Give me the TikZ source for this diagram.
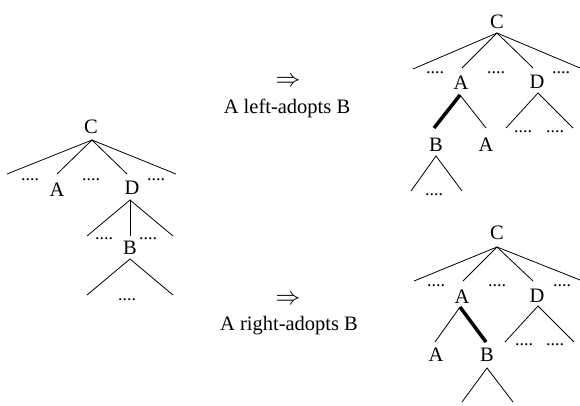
\documentclass[tikz,border=0pt]{standalone}
\usepackage{fontspec}
\setmainfont{Liberation Serif}
\begin{document}
\begin{tikzpicture}[x=1pt,y=-1pt,
  lbl/.style={inner sep=0pt,font=\fontsize{20.5}{22}\selectfont},
  arrw/.style={inner sep=0pt,font=\fontsize{25}{26}\selectfont},
  dts/.style={inner sep=0pt,font=\fontsize{18}{18}\selectfont},
  edge/.style={line width=0.8pt},
  boldedge/.style={line width=3.5pt}]
\useasboundingbox (0,0) rectangle (580,405);
% ---------- left tree ----------
\node[lbl] (C1) at (91,127) {C};
\coordinate (c1) at (92,140);
\coordinate (l1) at (7,174);
\coordinate (a1t) at (57,174);
\coordinate (d1t) at (127,174);
\coordinate (r1) at (176,174);
\draw[edge] (l1) -- (c1) -- (r1);
\draw[edge] (a1t) -- (c1) -- (d1t);
\node[dts] (p1) at (30,180) {....};
\node[dts] (p2) at (91,180) {....};
\node[dts] (p3) at (156,180) {....};
\node[lbl] (A1) at (57,190) {A};
\node[lbl] (D1) at (132,188) {D};
\coordinate (d1) at (130,200);
\coordinate (d1l) at (87,236);
\coordinate (d1m) at (130,236);
\coordinate (d1r) at (173,236);
\draw[edge] (d1l) -- (d1) -- (d1r);
\draw[edge] (d1) -- (d1m);
\node[dts] (p4) at (104,239) {....};
\node[dts] (p5) at (148,239) {....};
\node[lbl] (B1) at (130,248) {B};
\coordinate (b1) at (130,259);
\coordinate (b1l) at (87,295);
\coordinate (b1r) at (173,295);
\draw[edge] (b1l) -- (b1) -- (b1r);
\node[dts] (p6) at (127,300) {....};
% ---------- middle texts ----------
\node[arrw] (arr1) at (288,82) {$\Rightarrow$};
\node[lbl] (t1) at (287,108) {A left-adopts B};
\node[arrw] (arr2) at (288,300) {$\Rightarrow$};
\node[lbl] (t2) at (289,326) {A right-adopts B};
% ---------- top right tree ----------
\node[lbl] (C2) at (497,22) {C};
\coordinate (c2) at (497,33);
\coordinate (l2) at (413,69);
\coordinate (a2t) at (462,68);
\coordinate (d2t) at (533,68);
\coordinate (r2) at (580,68);
\draw[edge] (l2) -- (c2) -- (r2);
\draw[edge] (a2t) -- (c2) -- (d2t);
\node[dts] (q1) at (435,73) {....};
\node[dts] (q2) at (496,73) {....};
\node[dts] (q3) at (561,73) {....};
\node[lbl] (A2) at (461,83) {A};
\node[lbl] (D2) at (537,82) {D};
\coordinate (a2) at (460,95);
\coordinate (a2l) at (434,128);
\coordinate (a2r) at (486,128);
\draw[boldedge] (a2) -- (a2l);
\draw[edge] (a2) -- (a2r);
\node[lbl] (B2) at (436,145) {B};
\node[lbl] (A2b) at (486,145) {A};
\coordinate (b2) at (436,156);
\coordinate (b2l) at (411,191);
\coordinate (b2r) at (462,191);
\draw[edge] (b2l) -- (b2) -- (b2r);
\node[dts] (q4) at (434,195) {....};
\coordinate (d2) at (538,93);
\coordinate (d2l) at (506,128);
\coordinate (d2r) at (573,128);
\draw[edge] (d2l) -- (d2) -- (d2r);
\node[dts] (q5) at (523,132) {....};
\node[dts] (q6) at (555,132) {....};
% ---------- bottom right tree ----------
\node[lbl] (C3) at (497,233) {C};
\coordinate (c3) at (497,247);
\coordinate (l3) at (414,281);
\coordinate (a3t) at (463,281);
\coordinate (d3t) at (533,281);
\coordinate (r3) at (580,280);
\draw[edge] (l3) -- (c3) -- (r3);
\draw[edge] (a3t) -- (c3) -- (d3t);
\node[dts] (s1) at (436,286) {....};
\node[dts] (s2) at (497,286) {....};
\node[dts] (s3) at (562,286) {....};
\node[lbl] (A3) at (462,297) {A};
\node[lbl] (D3) at (537,296) {D};
\coordinate (a3) at (460,307);
\coordinate (a3l) at (435,342);
\coordinate (a3r) at (486,342);
\draw[edge] (a3) -- (a3l);
\draw[boldedge] (a3) -- (a3r);
\node[lbl] (A3b) at (436,355) {A};
\node[lbl] (B3) at (487,355) {B};
\coordinate (b3) at (487,368);
\coordinate (b3l) at (462,402);
\coordinate (b3r) at (513,402);
\draw[edge] (b3l) -- (b3) -- (b3r);
\coordinate (d3) at (538,306);
\coordinate (d3l) at (505,342);
\coordinate (d3r) at (574,342);
\draw[edge] (d3l) -- (d3) -- (d3r);
\node[dts] (s4) at (524,345) {....};
\node[dts] (s5) at (555,345) {....};
\end{tikzpicture}
\end{document}
